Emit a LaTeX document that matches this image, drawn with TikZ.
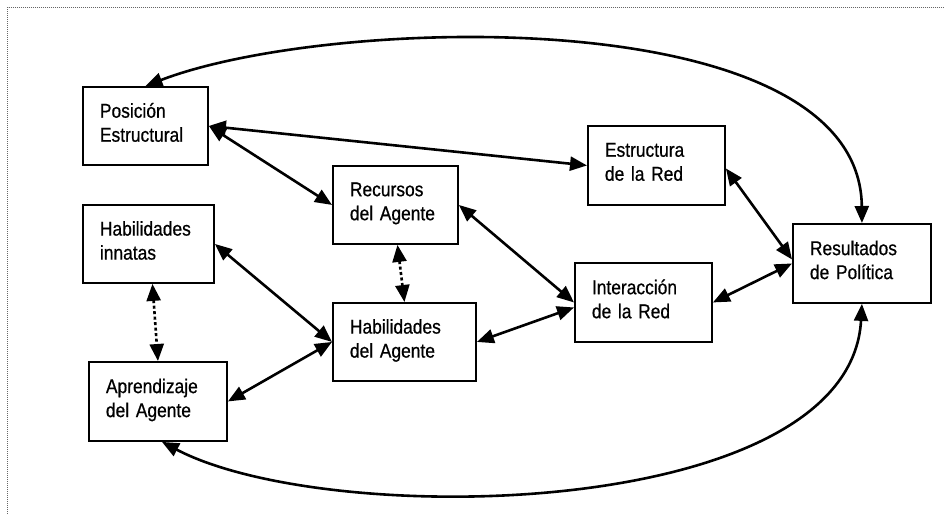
\documentclass[tikz,border=0pt]{standalone}
\usepackage{fontspec}
\setmainfont{Liberation Sans}[FakeStretch=0.87,FakeBold=0.6]
\usetikzlibrary{arrows.meta,calc}
\newcommand{\bxtxt}[2]{#1\\#2\strut}
\tikzset{
  box/.style={draw=black, line width=1.9pt, fill=white, anchor=north west,
    inner xsep=17pt, inner ysep=0pt, align=left,
    font=\fontsize{20pt}{24pt}\selectfont},
  tip/.tip={Triangle[length=17pt,width=14pt]},
  conn/.style={line width=2.6pt, tip-tip},
  dotconn/.style={conn, dash pattern=on 3pt off 2.5pt},
  frame/.style={draw=black!60, line width=0.8pt, dash pattern=on 1pt off 1pt}
}
\begin{document}
\begin{tikzpicture}[x=1pt,y=-1pt]
\useasboundingbox (0,0) rectangle (944,514);
\coordinate (fa) at (7.5,514);
\coordinate (fb) at (7.5,7);
\coordinate (fc) at (944,7);
\draw[frame] (fa) -- (fb) -- (fc);

\node[box, text width=91pt, minimum width=125pt, minimum height=78pt] (pos) at (82,86) {\bxtxt{Posición}{Estructural}};
\node[box, text width=91pt, minimum width=125pt, minimum height=78pt] (rec) at (332,165) {\bxtxt{Recursos}{del Agente}};
\node[box, text width=97pt, minimum width=131pt, minimum height=78pt] (hin) at (82,204) {\bxtxt{Habilidades}{innatas}};
\node[box, text width=103pt, minimum width=137pt, minimum height=79pt] (est) at (587,125) {\bxtxt{Estructura}{de la Red}};
\node[box, text width=104pt, minimum width=138pt, minimum height=79pt] (res) at (792,223) {\bxtxt{Resultados}{de Política}};
\node[box, text width=109pt, minimum width=143pt, minimum height=78pt] (hag) at (332,302) {\bxtxt{Habilidades}{del Agente}};
\node[box, text width=104pt, minimum width=138pt, minimum height=79pt] (apr) at (88,361) {\bxtxt{Aprendizaje}{del Agente}};
\node[box, text width=103pt, minimum width=137pt, minimum height=79pt] (int) at (574,262) {\bxtxt{Interacción}{de la Red}};

\draw[conn] (pos.north) .. controls (330,15) and (860,0) .. (res.north);
\draw[conn] ($(apr.south)+(4,0)$) .. controls (330,530) and (850,520) .. (res.south);
\draw[conn] (pos.east) -- (est.west);
\draw[conn] (pos.east) -- (rec.west);
\draw[dotconn] ($(rec.south)+(2,0)$) -- (hag.north);
\draw[dotconn] ($(hin.south)+(4,0)$) -- (apr.north);
\draw[conn] (hin.east) -- (hag.west);
\draw[conn] (apr.east) -- (hag.west);
\draw[conn] (rec.east) -- (int.west);
\draw[conn] (hag.east) -- ($(int.west)+(0,5)$);
\draw[conn] (int.east) -- (res.west);
\draw[conn] ($(est.east)+(0,3)$) -- ($(res.west)+(0,-4)$);
\end{tikzpicture}
\end{document}
